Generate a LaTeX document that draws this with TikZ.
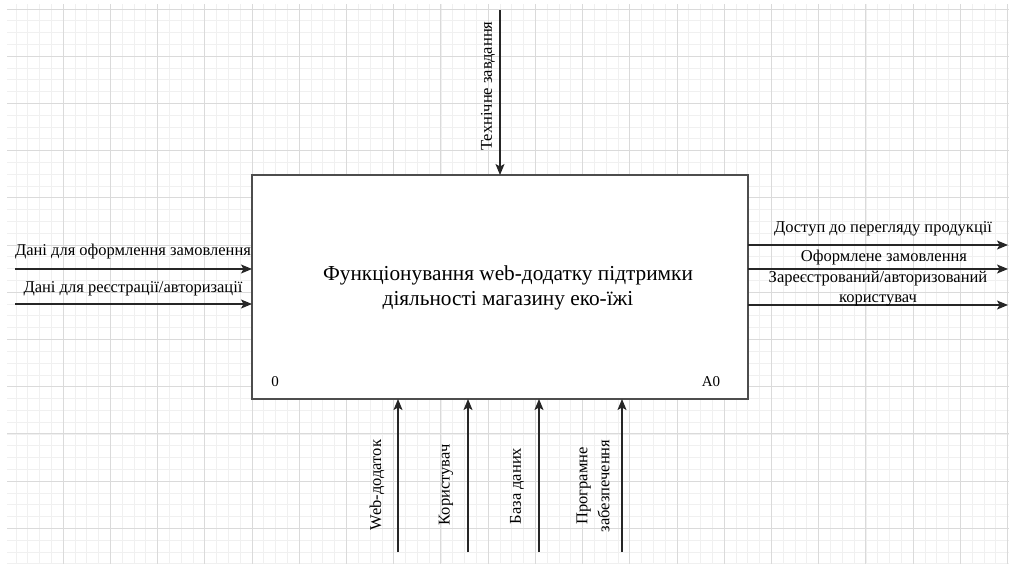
\documentclass[tikz,border=0pt]{standalone}
\usepackage{fontspec}
\setmainfont{Liberation Serif}
\usetikzlibrary{arrows.meta}
\definecolor{minorgrid}{HTML}{F0F0F0}
\definecolor{majorgrid}{HTML}{DADADA}
\definecolor{boxline}{HTML}{4D4D4D}
\definecolor{arrowline}{HTML}{262626}
\tikzset{
  minorln/.style={draw=minorgrid,line width=0.9pt},
  majorln/.style={draw=majorgrid,line width=1pt},
  funcbox/.style={draw=boxline,line width=1.8pt,fill=white},
  flow/.style={draw=arrowline,line width=1.4pt,-{Stealth[length=11pt,width=9pt,inset=2.5pt]}},
  lbl/.style={font=\fontsize{16.5}{18}\selectfont,inner sep=0pt,align=center,text=black},
  vlbl/.style={lbl,rotate=90},
  maintext/.style={font=\fontsize{21.3}{25}\selectfont,align=center,inner sep=0pt},
  corner/.style={font=\fontsize{15}{16}\selectfont,inner sep=0pt}
}
\begin{document}
\begin{tikzpicture}[x=1pt,y=-1pt]
\useasboundingbox (0,0) rectangle (1013,565);
% grid
\begin{scope}
\clip (7,4) rectangle (1009,564);
\foreach \k in {0,...,84} \draw[minorln] ({16+11.805*\k},4) -- ({16+11.805*\k},564);
\foreach \k in {0,...,47} \draw[minorln] (7,{9+11.805*\k}) -- (1009,{9+11.805*\k});
\foreach \j in {0,...,20} \draw[majorln] ({63.2+47.22*\j},4) -- ({63.2+47.22*\j},564);
\foreach \j in {0,...,11} \draw[majorln] (7,{9+47.22*\j}) -- (1009,{9+47.22*\j});
\end{scope}
% function box
\path[funcbox] (252,175) rectangle (748,399);
\node[maintext] (main) at (508,288) {Функціонування web-додатку підтримки\\діяльності магазину еко-їжі};
\node[corner] (num) at (275,382) {0};
\node[corner] (aid) at (711,382) {A0};
% coordinates of connector ends
\coordinate (ctlS) at (500,10);  \coordinate (ctlE) at (500,175);
\coordinate (in1S) at (15,269);  \coordinate (in1E) at (252,269);
\coordinate (in2S) at (15,304);  \coordinate (in2E) at (252,304);
\coordinate (out1S) at (748,245); \coordinate (out1E) at (1008,245);
\coordinate (out2S) at (748,269); \coordinate (out2E) at (1008,269);
\coordinate (out3S) at (748,305); \coordinate (out3E) at (1008,305);
\coordinate (m1S) at (398,552); \coordinate (m1E) at (398,399);
\coordinate (m2S) at (468,552); \coordinate (m2E) at (468,399);
\coordinate (m3S) at (539,552); \coordinate (m3E) at (539,399);
\coordinate (m4S) at (622,552); \coordinate (m4E) at (622,399);
% connectors
\draw[flow] (ctlS) -- (ctlE);
\draw[flow] (in1S) -- (in1E);
\draw[flow] (in2S) -- (in2E);
\draw[flow] (out1S) -- (out1E);
\draw[flow] (out2S) -- (out2E);
\draw[flow] (out3S) -- (out3E);
\draw[flow] (m1S) -- (m1E);
\draw[flow] (m2S) -- (m2E);
\draw[flow] (m3S) -- (m3E);
\draw[flow] (m4S) -- (m4E);
% labels
\node[vlbl] (lctl) at (488,86) {Технічне завдання};
\node[lbl] (lin1) at (133,252) {Дані для оформлення замовлення};
\node[lbl] (lin2) at (133,289) {Дані для реєстрації/авторизації};
\node[lbl] (lout1) at (883,229) {Доступ до перегляду продукції};
\node[lbl] (lout2) at (884,258) {Оформлене замовлення};
\node[lbl,font=\fontsize{16.5}{20}\selectfont] (lout3) at (878,289) {Зареєстрований/авторизований\\користувач};
\node[vlbl] (lm1) at (377,485) {Web-додаток};
\node[vlbl] (lm2) at (446,485) {Користувач};
\node[vlbl] (lm3) at (517,486) {База даних};
\node[vlbl,font=\fontsize{16.5}{22}\selectfont] (lm4) at (593,486) {Програмне\\забезпечення};
\end{tikzpicture}
\end{document}
